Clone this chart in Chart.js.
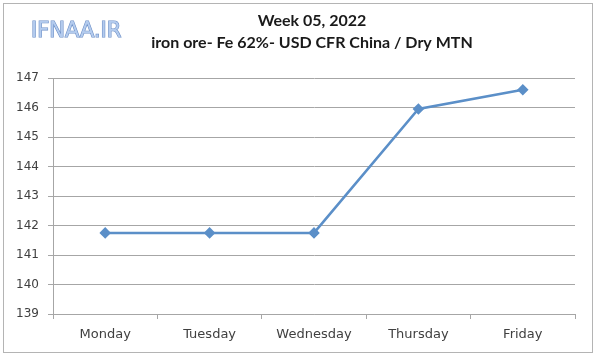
<!DOCTYPE html>
<html>
<head>
<meta charset="utf-8">
<script src="https://cdn.jsdelivr.net/npm/chart.js@4.4.1/dist/chart.umd.min.js"></script>
<style>
html,body{margin:0;padding:0;background:#fff;}
#wrap{width:600px;height:359px;position:relative;}
</style>
</head>
<body>
<div id="wrap"><canvas id="c" width="600" height="359"></canvas></div>
<script>
const categories = ["Monday", "Tuesday", "Wednesday", "Thursday", "Friday"];
const prices = [141.75, 141.75, 141.75, 145.95, 146.6];
const titleLines = ["Week 05, 2022", "iron ore- Fe 62%- USD CFR China / Dry MTN"];
const watermark = "IFNAA.IR";
const yMin = 139, yMax = 147, yStep = 1;

const decor = {
  id: 'decor',
  beforeDraw(chart) {
    const ctx = chart.ctx;
    ctx.save();
    ctx.fillStyle = '#ffffff';
    ctx.fillRect(0, 0, chart.width, chart.height);
    ctx.restore();
  },
  afterDraw(chart) {
    const ctx = chart.ctx;
    ctx.save();
    ctx.strokeStyle = '#b4b4b4';
    ctx.lineWidth = 1;
    ctx.strokeRect(3.5, 3.5, 589, 349);
    // titles
    ctx.fillStyle = '#1a1a1a';
    ctx.textAlign = 'center';
    ctx.textBaseline = 'alphabetic';
    ctx.font = 'bold 16px Lato';
    ctx.fillText(titleLines[0], 312, 26);
    ctx.fillText(titleLines[1], 312, 48);
    // watermark
    ctx.font = '21px "DejaVu Sans"';
    ctx.textAlign = 'left';
    ctx.lineWidth = 1.2;
    ctx.strokeStyle = '#6d8fc6';
    ctx.strokeText(watermark, 31, 37);
    ctx.fillStyle = '#b3cbee';
    ctx.fillText(watermark, 31, 37);
    ctx.restore();
  }
};

new Chart(document.getElementById('c'), {
  type: 'line',
  data: {
    labels: categories,
    datasets: [{
      data: prices,
      borderColor: '#5b8fc8',
      backgroundColor: '#5b8fc8',
      borderWidth: 2.5,
      pointStyle: 'rectRot',
      pointRadius: 4,
      pointHoverRadius: 4,
      tension: 0
    }]
  },
  options: {
    responsive: false,
    animation: false,
    events: [],
    layout: { padding: { top: 78, right: 25, left: 0, bottom: 0 } },
    plugins: { legend: { display: false }, tooltip: { enabled: false }, title: { display: false } },
    scales: {
      x: {
        offset: true,
        grid: { offset: true, drawOnChartArea: false, tickLength: 5, color: '#a6a6a6' },
        border: { color: '#a6a6a6' },
        ticks: { padding: 8, color: '#404040', font: { family: 'DejaVu Sans', size: 13 }, maxRotation: 0 },
        afterFit(s) { s.height = 45; }
      },
      y: {
        min: yMin, max: yMax,
        ticks: { stepSize: yStep, padding: 9, color: '#404040', font: { family: 'DejaVu Sans', size: 12 } },
        grid: { color: '#a6a6a6', tickLength: 5 },
        border: { color: '#a6a6a6' },
        afterFit(s) { s.width = 53; }
      }
    }
  },
  plugins: [decor]
});
</script>
</body>
</html>
